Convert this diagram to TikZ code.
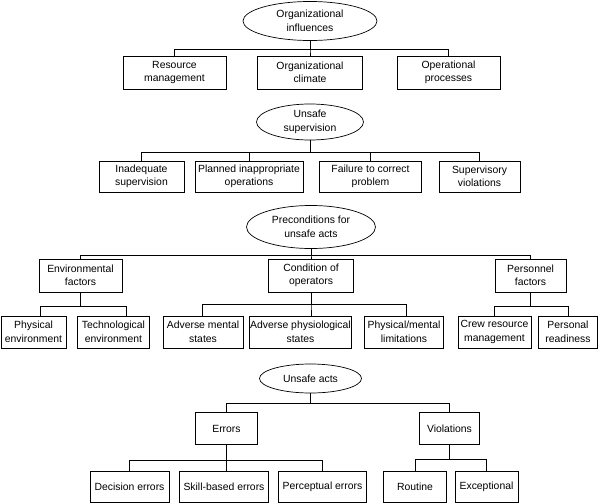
\documentclass[tikz,border=0pt]{standalone}
\usepackage{fontspec}
\setmainfont{Liberation Sans}
\usetikzlibrary{shapes.geometric}

\begin{document}
\begin{tikzpicture}[x=1pt, y=-1pt, line width=0.7pt,
        every node/.style={font=\fontsize{10.4}{13.5}\selectfont, inner sep=0pt},
        oval/.style={ellipse, draw, align=center},
        box/.style={rectangle, draw, align=center}]
        \useasboundingbox (0,0) rectangle (602,503);

        \node[oval, minimum width=134, minimum height=39] (orgInf) at (310, 21) {Organizational\\influences};
        \node[box, minimum width=103, minimum height=33] (resMgmt) at (174.5, 72.5) {Resource\\management};
        \node[box, minimum width=105, minimum height=33] (orgClim) at (310, 72.5) {Organizational\\climate};
        \node[box, minimum width=103, minimum height=33] (opProc) at (448.5, 72.5) {Operational\\processes};

        \draw (orgInf.south) -- ++(0, 9) -| (resMgmt.north);
        \draw (orgInf.south) -- ++(0, 9) -| (orgClim.north);
        \draw (orgInf.south) -- ++(0, 9) -| (opProc.north);

        \node[oval, minimum width=107, minimum height=36] (unsSup) at (310, 122) {Unsafe\\supervision};
        \node[box, minimum width=85, minimum height=31] (inadSup) at (141.5, 176.5) {Inadequate\\supervision};
        \node[box, minimum width=108, minimum height=31] (planOps) at (249, 176.5) {Planned inappropriate\\operations};
        \node[box, minimum width=102, minimum height=31] (failCorr) at (370.5, 176.5) {Failure to correct\\problem};
        \node[box, minimum width=81, minimum height=31] (supViol) at (479.5, 176.5) {Supervisory\\violations};

        \draw (unsSup.south) -- ++(0, 12) -| (inadSup.north);
        \draw (unsSup.south) -- ++(0, 12) -| (planOps.north);
        \draw (unsSup.south) -- ++(0, 12) -| (failCorr.north);
        \draw (unsSup.south) -- ++(0, 12) -| (supViol.north);

        \node[oval, minimum width=129, minimum height=43] (precond) at (311, 227) {Preconditions for\\unsafe acts};
        \node[box, minimum width=83, minimum height=33] (envFac) at (80.5, 275.5) {Environmental\\factors};
        \node[box, minimum width=85, minimum height=33] (condOp) at (311, 275.5) {Condition of\\operators};
        \node[box, minimum width=71, minimum height=33] (persFac) at (530.5, 275.5) {Personnel\\factors};

        \draw (precond.south) -- ++(0, 6) -| (envFac.north);
        \draw (precond.south) -- ++(0, 6) -| (condOp.north);
        \draw (precond.south) -- ++(0, 6) -| (persFac.north);

        \node[box, minimum width=65, minimum height=32] (physEnv) at (33.5, 332) {Physical\\environment};
        \node[box, minimum width=72, minimum height=32] (techEnv) at (113.5, 332) {Technological\\environment};
        \node[box, minimum width=80, minimum height=32] (advMent) at (203, 332) {Adverse mental\\states};
        \node[box, minimum width=102, minimum height=32] (advPhys) at (300.5, 332) {Adverse physiological\\states};
        \node[box, minimum width=79, minimum height=32] (physLim) at (404, 332) {Physical/mental\\limitations};
        \node[box, minimum width=73, minimum height=32] (crewRes) at (494.5, 332) {Crew resource\\management};
        \node[box, minimum width=59, minimum height=32] (persReady) at (568, 332) {Personal\\readiness};

        \draw (envFac.south) -- ++(0, 14) -| ([xshift=6.5]physEnv.north);
        \draw (envFac.south) -- ++(0, 14) -| ([xshift=12.5]techEnv.north);
        \draw (condOp.south) -- ++(0, 12) -| ([xshift=-1]advMent.north);
        \draw (condOp.south) -- ++(0, 12) -| ([xshift=10.5]advPhys.north);
        \draw (condOp.south) -- ++(0, 12) -| ([xshift=2]physLim.north);
        \draw (persFac.south) -- ++(0, 13.5) -| (crewRes.north);
        \draw (persFac.south) -- ++(0, 13.5) -| (persReady.north);

        \node[oval, minimum width=102, minimum height=29] (unsActs) at (310.5, 378.5) {Unsafe acts};
        \node[box, minimum width=62, minimum height=32] (errors) at (226.5, 428.5) {Errors};
        \node[box, minimum width=60, minimum height=32] (viol) at (449.5, 428.5) {Violations};

        \draw (unsActs.south) -- ++(0, 9.5) -| (errors.north);
        \draw (unsActs.south) -- ++(0, 9.5) -| (viol.north);

        \node[box, minimum width=79, minimum height=31] (decErr) at (129.5, 486.5) {Decision errors};
        \node[box, minimum width=89, minimum height=31] (skillErr) at (224, 486.5) {Skill-based errors};
        \node[box, minimum width=88, minimum height=31] (percErr) at (322.5, 486.5) {Perceptual errors};
        \node[box, minimum width=63, minimum height=31] (routine) at (415, 486.5) {Routine};
        \node[box, minimum width=63, minimum height=31] (except) at (486.5, 486.5) {Exceptional};

        \draw (errors.south) -- ++(0, 15) -| (decErr.north);
        \draw (errors.south) -- ++(0, 15) -| ([xshift=2.5]skillErr.north);
        \draw (errors.south) -- ++(0, 15) -| (percErr.north);
        \draw (viol.south) -- ++(0, 14.5) -| (routine.north);
        \draw (viol.south) -- ++(0, 14.5) -| (except.north);
\end{tikzpicture}
\end{document}
